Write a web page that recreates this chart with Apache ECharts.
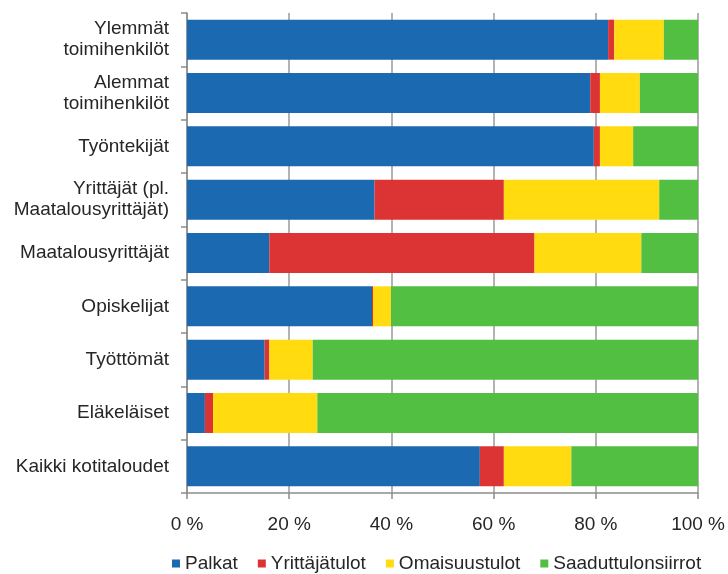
<!DOCTYPE html>
<html>
<head>
<meta charset="utf-8">
<script src="https://cdn.jsdelivr.net/npm/echarts@6/dist/echarts.min.js"></script>
<style>
  html, body { margin: 0; padding: 0; background: #fff; }
  #chart { width: 728px; height: 574px; }
</style>
</head>
<body>
<div id="chart"></div>
<script>
// tuloryhmät, ylhäältä alas
var categories = [
	'Ylemmät\ntoimihenkilöt',
	'Alemmat\ntoimihenkilöt',
	'Työntekijät',
	'Yrittäjät (pl.\nMaatalousyrittäjät)',
	'Maatalousyrittäjät',
	'Opiskelijat',
	'Työttömät',
	'Eläkeläiset',
	'Kaikki kotitaloudet'
];
var seriesNames = ['Palkat', 'Yrittäjätulot', 'Omaisuustulot', 'Saaduttulonsiirrot'];

// osuudet, %
var palkat        = [82.4, 78.9, 79.6, 36.7, 16.1, 36.2, 15.2,  3.5, 57.3];
var yrittajatulot = [ 1.2,  1.9,  1.2, 25.3, 51.9,  0.2,  0.9,  1.6,  4.7];
var omaisuustulot = [ 9.7,  7.8,  6.5, 30.4, 20.9,  3.5,  8.5, 20.4, 13.2];
var tulonsiirrot  = [ 6.7, 11.4, 12.7,  7.6, 11.1, 60.1, 75.4, 74.5, 24.8];

var xTicks = [0, 20, 40, 60, 80, 100];

var colors = ['#1a69b1', '#dc3434', '#ffdb0f', '#52bf42'];
var values = [palkat, yrittajatulot, omaisuustulot, tulonsiirrot];

var myChart = echarts.init(document.getElementById('chart'));

var series = [];
for (var i = 0; i < seriesNames.length; i++) {
	series.push({
		name: seriesNames[i],
		type: 'bar',
		stack: 'total',
		barCategoryGap: '25%',
		data: values[i],
		itemStyle: { color: colors[i] }
	});
}

var option = {
	animation: false,
	color: colors,
	textStyle: { fontFamily: 'Liberation Sans, Arial, sans-serif' },
	grid: { left: 187, right: 29, top: 13, bottom: 81 },
	legend: {
		left: 167,
		top: 549,
		icon: 'rect',
		itemWidth: 8,
		itemHeight: 8,
		itemGap: 20,
		textStyle: { fontSize: 19, color: '#262626' },
		data: seriesNames
	},
	xAxis: {
		type: 'value',
		min: xTicks[0],
		max: xTicks[xTicks.length - 1],
		interval: 20,
		axisLine: { show: true, lineStyle: { color: '#8c8c8c', width: 1.5 } },
		axisTick: { show: true, length: 6, lineStyle: { color: '#8c8c8c', width: 1.5 } },
		axisLabel: {
			fontSize: 19,
			color: '#262626',
			margin: 22,
			formatter: function (v) { return v + ' %'; }
		},
		splitLine: { show: true, lineStyle: { color: '#9a9a9a', width: 1.5 } }
	},
	yAxis: {
		type: 'category',
		inverse: true,
		data: categories,
		axisLine: { show: true, lineStyle: { color: '#8c8c8c', width: 1.5 } },
		axisTick: { show: true, length: 6, lineStyle: { color: '#8c8c8c', width: 1.5 } },
		axisLabel: {
			fontSize: 19,
			lineHeight: 21,
			color: '#262626',
			margin: 18,
			align: 'right'
		}
	},
	series: series
};
myChart.setOption(option);
</script>
</body>
</html>
